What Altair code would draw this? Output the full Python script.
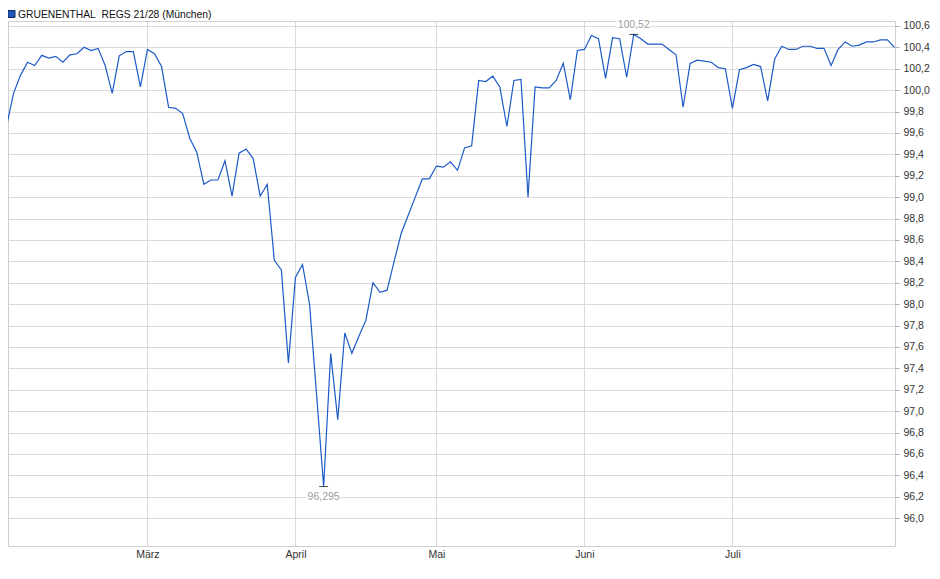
import altair as alt
import pandas as pd

# ---- data ----
prices = [
    99.66, 99.97, 100.14, 100.26, 100.23, 100.325, 100.30, 100.315, 100.26, 100.33,
    100.34, 100.40, 100.37, 100.39, 100.23, 99.97, 100.32, 100.36, 100.36, 100.03,
    100.38, 100.34, 100.22, 99.84, 99.83, 99.78, 99.55, 99.42, 99.12, 99.16,
    99.16, 99.34, 99.01, 99.41, 99.45, 99.36, 99.01, 99.12, 98.41, 98.32,
    97.45, 98.25, 98.37, 98.00, 97.15, 96.295, 97.54, 96.92, 97.73, 97.54,
    97.70, 97.85, 98.20, 98.11, 98.13, 98.40, 98.66, 98.83, 99.00, 99.17,
    99.17, 99.29, 99.28, 99.33, 99.25, 99.46, 99.48, 100.09, 100.08, 100.13,
    100.03, 99.66, 100.09, 100.10, 99.00, 100.03, 100.02, 100.02, 100.09, 100.25,
    99.91, 100.37, 100.38, 100.51, 100.48, 100.11, 100.49, 100.48, 100.12, 100.52,
    100.48, 100.43, 100.43, 100.43, 100.38, 100.33, 99.84, 100.25, 100.28, 100.27,
    100.26, 100.21, 100.20, 99.83, 100.19, 100.21, 100.24, 100.22, 99.90, 100.29,
    100.41, 100.38, 100.38, 100.41, 100.41, 100.39, 100.39, 100.23, 100.38, 100.45,
    100.41, 100.42, 100.45, 100.45, 100.47, 100.47, 100.40,
]
month_pos = [20, 41, 61, 82, 103]          # trading-day index of first day of month
month_names = ["März", "April", "Mai", "Juni", "Juli"]
y_ticks = [96.0, 96.2, 96.4, 96.6, 96.8, 97.0, 97.2, 97.4, 97.6, 97.8, 98.0, 98.2,
           98.4, 98.6, 98.8, 99.0, 99.2, 99.4, 99.6, 99.8, 100.0, 100.2, 100.4, 100.6]
series_name = "GRUENENTHAL\u00a0 REGS 21/28 (München)"
ext_idx = [45, 89]
ext_val = [96.295, 100.52]
ext_lbl = ["96,295", "100,52"]
ext_dy = [10, -9]

df = pd.DataFrame({"i": list(range(len(prices))), "v": prices})

FONT = "Liberation Sans"
LINE = "#1c5ac8"
GRID = "#dadada"
X_DOMAIN = [0.213, 126.07]
Y_DOMAIN = [95.7393, 100.6458]

label_expr = " : ".join(f"datum.value == {p} ? '{n}'" for p, n in zip(month_pos, month_names)) + " : ''"

x_scale = alt.Scale(domain=X_DOMAIN, nice=False, zero=False)
y_scale = alt.Scale(domain=Y_DOMAIN, nice=False, zero=False)

x_axis = alt.Axis(values=month_pos, labelExpr=label_expr, title=None, grid=True,
                  gridColor=GRID, ticks=False, tickSize=0, domain=False, labelPadding=3,
                  labelOverlap=False, labelFont=FONT, labelFontSize=10.5,
                  labelColor="#333333")
y_axis = alt.Axis(orient="right", values=y_ticks,
                  labelExpr="replace(format(datum.value, '.1f'), '.', ',')",
                  title=None, grid=True, gridColor=GRID, ticks=True, tickSize=4,
                  tickColor="#b0b0b0", domain=False, labelPadding=4,
                  labelOverlap=False, labelFont=FONT, labelFontSize=10.5,
                  labelColor="#333333")

x_enc = alt.X("i:Q", scale=x_scale, axis=x_axis)
y_enc = alt.Y("v:Q", scale=y_scale, axis=y_axis)

line = alt.Chart(df).mark_line(color=LINE, strokeWidth=1.2, clip=True).encode(x=x_enc, y=y_enc)

layers = [line]
for i, v, lbl, dy in zip(ext_idx, ext_val, ext_lbl, ext_dy):
    d = pd.DataFrame({"i": [i], "v": [v], "lbl": [lbl]})
    base = alt.Chart(d).encode(x=x_enc, y=y_enc)
    layers.append(base.mark_rect(width=34, height=11, color="white", yOffset=dy))
    layers.append(base.mark_tick(orient="horizontal", size=9, thickness=1, color="black"))
    layers.append(base.mark_text(dy=dy, color="#a0a0a0", font=FONT, fontSize=10.5,
                                 baseline="middle").encode(text="lbl:N"))

leg = pd.DataFrame({"t": [series_name]})
legend_sq = alt.Chart(leg).mark_square(size=49, fill="#1f55b8", stroke="#0e2a63",
                                       strokeWidth=1, opacity=1).encode(
    x=alt.value(3.5), y=alt.value(-7))
legend_txt = alt.Chart(leg).mark_text(align="left", baseline="alphabetic", font=FONT,
                                      fontSize=10.3, color="#111111").encode(
    x=alt.value(10), y=alt.value(-3), text="t:N")
layers += [legend_sq, legend_txt]

chart = alt.layer(*layers).properties(
    width=887, height=525,
    autosize=alt.AutoSizeParams(type="none"),
    padding={"left": 0, "top": 13, "right": 37, "bottom": 26},
    background="white",
).configure_view(stroke="#cfcfcf", strokeWidth=1)

chart.save("out.html", embed_options={"renderer": "svg", "actions": False})
